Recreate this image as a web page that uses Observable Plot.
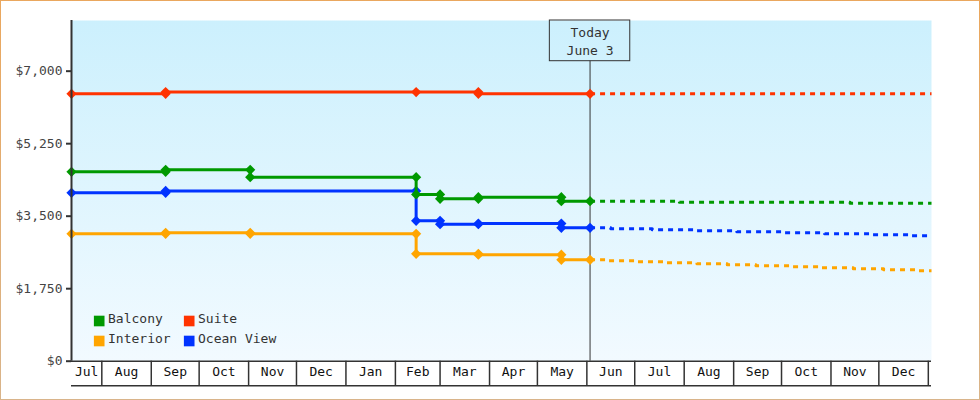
<!DOCTYPE html>
<html>
<head>
<meta charset="utf-8">
<script src="https://cdn.jsdelivr.net/npm/d3@7"></script>
<script src="https://cdn.jsdelivr.net/npm/@observablehq/plot@0.6"></script>
<style>
html, body { margin: 0; padding: 0; background: #fff; }
#chart { position: relative; width: 980px; height: 400px; overflow: hidden; }
#chart svg { display: block; }
#chart::after { content: ""; position: absolute; inset: 0; border: 1px solid transparent;
  border-image: linear-gradient(to bottom, #eaa75e, #d9b48a) 1; pointer-events: none; }
</style>
</head>
<body>
<div id="chart"></div>
<script>
// ---------- data ----------
const seriesNames  = ["Balcony", "Suite", "Interior", "Ocean View"];
const seriesColors = ["#009900", "#ff3300", "#ffa500", "#0033ff"];

// observed prices (a repeated date = a price change on that day)
const balconyDates  = ["2024-07-13","2024-09-10","2024-09-10","2024-11-02","2024-11-02","2025-02-14","2025-02-14","2025-03-01","2025-03-01","2025-03-25","2025-03-25","2025-05-16","2025-05-16","2025-06-03"];
const balconyPrices = [4572, 4572, 4620, 4620, 4441, 4441, 4024, 4024, 3920, 3920, 3960, 3960, 3862, 3862];

const suiteDates  = ["2024-07-13","2024-09-10","2024-09-10","2025-02-14","2025-03-25","2025-03-25","2025-06-03"];
const suitePrices = [6454, 6454, 6495, 6495, 6495, 6454, 6454];

const interiorDates  = ["2024-07-13","2024-09-10","2024-09-10","2024-11-02","2024-11-02","2025-02-14","2025-02-14","2025-03-25","2025-03-25","2025-05-16","2025-05-16","2025-06-03"];
const interiorPrices = [3075, 3075, 3099, 3099, 3075, 3075, 2592, 2592, 2570, 2570, 2448, 2448];

const oceanDates  = ["2024-07-13","2024-09-10","2024-09-10","2025-02-14","2025-02-14","2025-03-01","2025-03-01","2025-03-25","2025-03-25","2025-05-16","2025-05-16","2025-06-03"];
const oceanPrices = [4065, 4065, 4110, 4110, 3389, 3389, 3307, 3307, 3322, 3322, 3220, 3220];

// forecast (dashed)
const balconyForecastDates = ["2025-06-03","2025-07-29","2025-11-13","2026-01-03"];
const balconyForecast      = [3862, 3838, 3814, 3814];
const suiteForecastDates   = ["2025-06-03","2026-01-03"];
const suiteForecast        = [6454, 6454];
const interiorForecastDates = ["2025-06-03","2025-06-13","2025-07-02","2025-07-21","2025-08-09","2025-08-28","2025-09-15","2025-10-07","2025-10-26","2025-11-15","2025-12-04","2025-12-26","2026-01-03"];
const interiorForecast      = [2448, 2424, 2399, 2375, 2351, 2327, 2303, 2279, 2254, 2230, 2206, 2182, 2182];
const oceanForecastDates = ["2025-06-03","2025-06-16","2025-07-12","2025-08-09","2025-09-03","2025-10-01","2025-10-28","2025-11-26","2025-12-21","2026-01-03"];
const oceanForecast      = [3220, 3196, 3172, 3148, 3124, 3100, 3075, 3051, 3027, 3027];

const xDomain = ["2024-07-13", "2026-01-03"];
const yMax = 8223;
const yTicks = [0, 1750, 3500, 5250, 7000];
const today = "2025-06-03";
const todayLabel = "Today\nJune 3";

const monthStarts = ["2024-07-13","2024-08-01","2024-09-01","2024-10-01","2024-11-01","2024-12-01","2025-01-01","2025-02-01","2025-03-01","2025-04-01","2025-05-01","2025-06-01","2025-07-01","2025-08-01","2025-09-01","2025-10-01","2025-11-01","2025-12-01"];
const monthsEnd = "2026-01-01";
const monthLabels = ["Jul","Aug","Sep","Oct","Nov","Dec","Jan","Feb","Mar","Apr","May","Jun","Jul","Aug","Sep","Oct","Nov","Dec"];

// ---------- build ----------
const toRows = (dates, prices) => dates.map((d, i) => ({date: new Date(d), price: prices[i]}));
const series = [
  {name: "Interior",   obs: toRows(interiorDates, interiorPrices), fc: toRows(interiorForecastDates, interiorForecast)},
  {name: "Ocean View", obs: toRows(oceanDates, oceanPrices),       fc: toRows(oceanForecastDates, oceanForecast)},
  {name: "Balcony",    obs: toRows(balconyDates, balconyPrices),   fc: toRows(balconyForecastDates, balconyForecast)},
  {name: "Suite",      obs: toRows(suiteDates, suitePrices),       fc: toRows(suiteForecastDates, suiteForecast)}
];
const colorOf = name => seriesColors[seriesNames.indexOf(name)];

const bounds = monthStarts.slice(1).concat([monthsEnd]).map(d => new Date(d));
const bands = monthStarts.map((s, i) => {
  const a = new Date(s), b = bounds[i];
  return {mid: new Date((a.getTime() + b.getTime()) / 2), label: monthLabels[i]};
});
const todayDate = new Date(today);
const fmt = d => "$" + d3.format(",")(d);

const ink = "#333";
const marks = [
  Plot.frame({fill: "url(#plotBg)"}),
  Plot.rect([todayDate], {x1: d => d, x2: d => d, insetLeft: -40.2, insetRight: -40.2, insetBottom: 300, fill: "none", stroke: ink, strokeWidth: 1}),
  Plot.ruleX([todayDate], {insetTop: 40.7, stroke: ink, strokeWidth: 1}),
  Plot.text([todayDate], {x: d => d, frameAnchor: "top", lineAnchor: "top", dy: 4, text: () => todayLabel, lineHeight: 1.38, fill: ink, fontSize: 13})
];
for (const s of series) {
  marks.push(Plot.line(s.fc, {x: "date", y: "price", curve: "step-after", stroke: colorOf(s.name), strokeWidth: 3, strokeDasharray: "5,5", strokeLinecap: "butt"}));
}
for (const s of series) {
  marks.push(Plot.line(s.obs, {x: "date", y: "price", stroke: colorOf(s.name), strokeWidth: 3, strokeLinejoin: "miter"}));
  marks.push(Plot.dot(s.obs, {x: "date", y: "price", symbol: "diamond2", r: 4.6, fill: colorOf(s.name), stroke: "none"}));
}
marks.push(
  Plot.ruleX([new Date(xDomain[0])], {stroke: ink, strokeWidth: 2}),
  Plot.ruleY([0], {stroke: ink, strokeWidth: 1.5}),
  Plot.ruleY([0], {dy: 24.5, stroke: ink, strokeWidth: 1.5}),
  Plot.ruleX(bounds, {insetTop: 340.7, insetBottom: -24.5, stroke: ink, strokeWidth: 1.5}),
  Plot.text(bands, {x: "mid", text: "label", frameAnchor: "bottom", dy: 14.5, fill: "#111", fontSize: 13}),
  Plot.axisY({ticks: yTicks, tickFormat: fmt, tickSize: 5, tickPadding: 4, strokeWidth: 2, stroke: ink, fill: "#444", fontSize: 13, label: null})
);
seriesNames.forEach((name, i) => {
  const col = i % 2, row = Math.floor(i / 2);
  const dx = 27.7 + col * 90, dy = -40.2 + row * 20;
  marks.push(Plot.dot([name], {frameAnchor: "bottom-left", dx, dy, symbol: "square", r: 6, fill: colorOf(name), stroke: "none"}));
  marks.push(Plot.text([name], {frameAnchor: "bottom-left", dx: dx + 8.8, dy: dy + 1.5, textAnchor: "start", text: d => d, fill: ink, fontSize: 13}));
});

const svg = Plot.plot({
  width: 980,
  height: 400,
  marginLeft: 71,
  marginRight: 49,
  marginTop: 20,
  marginBottom: 39.3,
  style: {fontFamily: "'DejaVu Sans Mono', monospace", fontSize: "13px", background: "transparent", color: ink, overflow: "visible"},
  x: {type: "utc", domain: xDomain.map(d => new Date(d)), axis: null},
  y: {domain: [0, yMax]},
  marks
});
const ns = "http://www.w3.org/2000/svg";
const defs = document.createElementNS(ns, "defs");
defs.innerHTML = '<linearGradient id="plotBg" x1="0" y1="0" x2="0" y2="1"><stop offset="0" stop-color="#ccf0fd"/><stop offset="1" stop-color="#f2faff"/></linearGradient>';
svg.insertBefore(defs, svg.firstChild);
document.getElementById("chart").appendChild(svg);
</script>
</body>
</html>
